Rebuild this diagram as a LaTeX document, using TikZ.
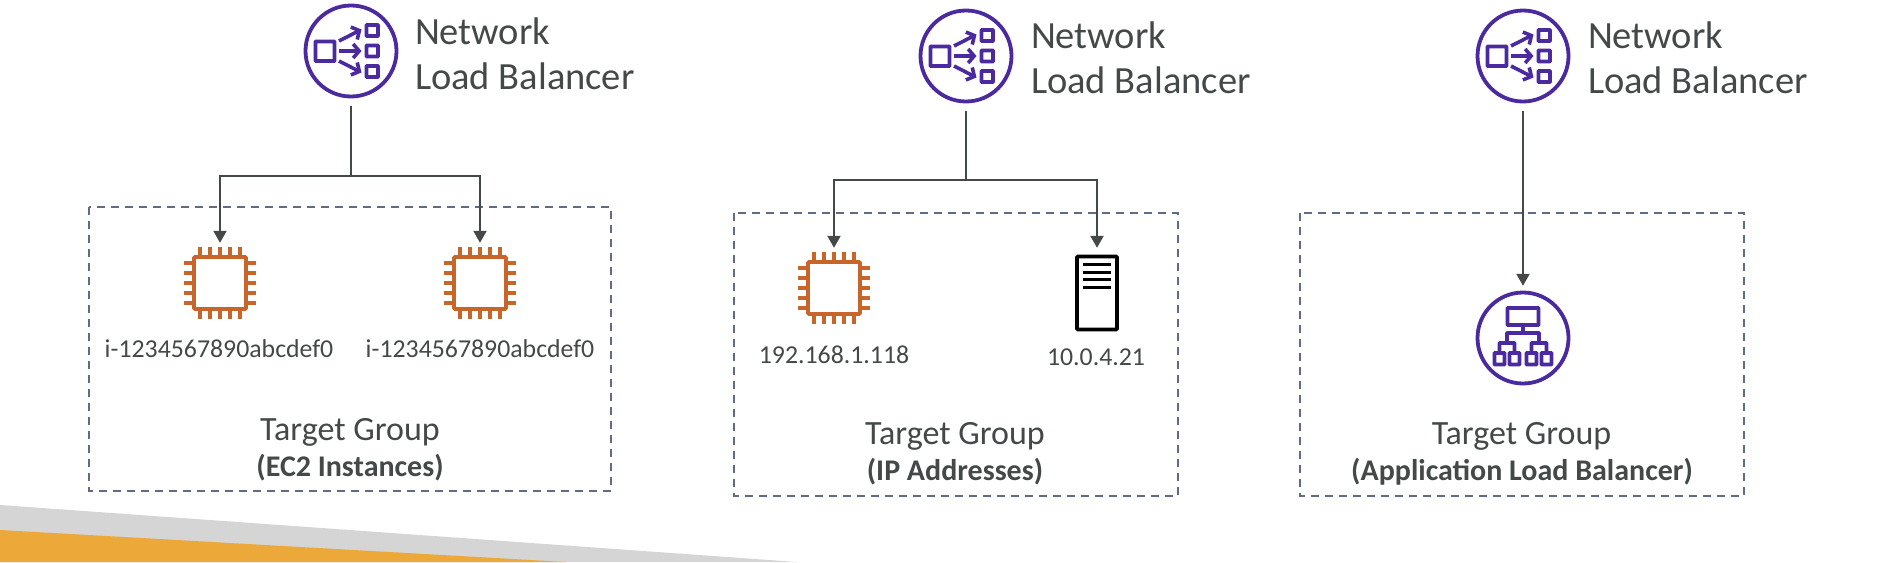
\documentclass[tikz,border=0pt]{standalone}
\usepackage{fontspec}
\setmainfont{Carlito}
\usetikzlibrary{arrows.meta}

\definecolor{awspurple}{RGB}{75,42,160}
\definecolor{awsorange}{RGB}{199,101,42}
\definecolor{textgrey}{RGB}{68,72,72}
\definecolor{dashgrey}{RGB}{96,108,134}

\tikzset{
  spot/.style={shape=circle,minimum size=#1,inner sep=0pt},
  box/.style={shape=rectangle,minimum width=#1,minimum height=#1,inner sep=0pt},
  group/.style={draw=dashgrey,line width=2pt,dash pattern=on 8pt off 6pt},
  link/.style={draw=textgrey,line width=2pt},
  linkarrow/.style={link,-{Triangle[width=13pt,length=12pt]}},
  title/.style={anchor=base west,align=left,text=textgrey,font=\fontsize{38.5}{45}\selectfont},
  addr/.style={anchor=base,text=textgrey,font=\fontsize{25.8}{30}\selectfont},
  tg/.style={anchor=base,text=textgrey,font=\fontsize{34}{40}\selectfont},
  tgsub/.style={anchor=base,text=textgrey,font=\bfseries\fontsize{30}{36}\selectfont},
  pics/nlbicon/.style={code={
    \tikzset{yscale=-1}
    \draw [awspurple,line width=3.8pt] (0,0) circle (45.5);
    \draw [awspurple,line width=3.8pt,rounded corners=0.6pt] (-35.5,-9.5) rectangle (-16.5,10);
    \foreach \y in {-20.5,0,20.5}
      \draw [awspurple,line width=3.8pt,rounded corners=0.6pt] (15.5,\y-5.5) rectangle (27,\y+5.5);
    \foreach \y in {-1,0,1}
      \draw [awspurple,line width=3.6pt,-{Straight Barb[length=6pt,width=14pt]}] (-12,10*\y) -- (10.5,21.5*\y);
  }},
  pics/albicon/.style={code={
    \tikzset{yscale=-1}
    \draw [awspurple,line width=3.8pt] (0,0) circle (45.5);
    \draw [awspurple,line width=3.8pt,rounded corners=0.6pt] (-15.5,-30) rectangle (15.5,-13);
    \draw [awspurple,line width=3.8pt] (0,-13) -- (0,-5);
    \draw [awspurple,line width=3.8pt,rounded corners=0.6pt] (-16,5) -- (-16,-5) -- (16,-5) -- (16,5);
    \foreach \x in {-16,16} {
      \draw [awspurple,line width=3.8pt,rounded corners=0.6pt] (\x-7.5,13) -- (\x-7.5,5) -- (\x+7.5,5) -- (\x+7.5,13);
      \foreach \s in {-7.5,7.5}
        \draw [awspurple,line width=3.8pt,rounded corners=0.6pt] (\x+\s-5,15) rectangle (\x+\s+5,26.5);
    }
  }},
  pics/chipicon/.style={code={
    \tikzset{yscale=-1}
    \draw [awsorange,line width=3.6pt,rounded corners=1pt] (-26,-26) rectangle (26,26);
    \foreach \d in {-20,-10,0,10,20} {
      \draw [awsorange,line width=3.2pt] (\d,-36) -- (\d,-27);
      \draw [awsorange,line width=3.2pt] (\d,36) -- (\d,27);
      \draw [awsorange,line width=3.2pt] (-36,\d) -- (-27,\d);
      \draw [awsorange,line width=3.2pt] (36,\d) -- (27,\d);
    }
  }},
  pics/servericon/.style={code={
    \tikzset{yscale=-1}
    \draw [black,line width=3.6pt,rounded corners=1pt] (-20,-36.5) rectangle (20,36.5);
    \foreach \y in {-28.5,-21,-13.5,-6}
      \draw [black,line width=3pt] (-14,\y) -- (14,\y);
  }},
}

\begin{document}
\begin{tikzpicture}[x=1pt,y=1pt,yscale=-1,xscale=1]
    \useasboundingbox (0,0) rectangle (1884,562);

    %Banner
    \fill [fill={rgb,255:red,213;green,213;blue,213}] (0,505) -- (797,562) -- (0,562) -- cycle;
    \fill [fill={rgb,255:red,236;green,169;blue,58}] (0,530) -- (566,562) -- (0,562) -- cycle;

    %Target groups
    \draw [group] (89,207) rectangle (611,491);
    \draw [group] (734,213) rectangle (1178,496);
    \draw [group] (1300,213) rectangle (1744,496);

    %Load balancers
    \node [spot=110] (nlbA) at (351,51) {};
    \node [spot=110] (nlbB) at (966,56) {};
    \node [spot=110] (nlbC) at (1523,56) {};
    \pic at (nlbA) {nlbicon};
    \pic at (nlbB) {nlbicon};
    \pic at (nlbC) {nlbicon};

    %Targets
    \node [box=80] (chipA) at (220,283) {};
    \node [box=80] (chipB) at (480,283) {};
    \node [box=80] (chipC) at (834,288) {};
    \node [box=90] (srvC) at (1097,293) {};
    \node [spot=104] (albC) at (1523,338) {};
    \pic at (chipA) {chipicon};
    \pic at (chipB) {chipicon};
    \pic at (chipC) {chipicon};
    \pic at (srvC) {servericon};
    \pic at (albC) {albicon};

    %Connectors
    \coordinate (forkA) at (351,176);
    \coordinate (forkB) at (966,180);
    \draw [link] (nlbA.south) -- (forkA);
    \draw [linkarrow] (forkA) -| (chipA.north);
    \draw [linkarrow] (forkA) -| (chipB.north);
    \draw [link] (nlbB.south) -- (forkB);
    \draw [linkarrow] (forkB) -| (chipC.north);
    \draw [linkarrow] (forkB) -| (srvC.north);
    \draw [linkarrow] (nlbC.south) -- (albC.north);

    % Text Node
    \node [title] (titleA) at (411.5,89) {Network\\Load Balancer};
    \node [title] (titleB) at (1027.5,93) {Network\\Load Balancer};
    \node [title] (titleC) at (1584.5,93) {Network\\Load Balancer};
    % Text Node
    \node [addr] (addrA) at (219,357) {i-1234567890abcdef0};
    \node [addr] (addrB) at (480,357) {i-1234567890abcdef0};
    \node [addr] (addrC) at (834,363) {192.168.1.118};
    \node [addr] (addrD) at (1096,365) {10.0.4.21};
    % Text Node
    \node [tg] (tgA) at (350,440) {Target Group};
    \node [tgsub] (subA) at (350,476) {(EC2 Instances)};
    \node [tg] (tgB) at (955,444) {Target Group};
    \node [tgsub] (subB) at (955,480) {(IP Addresses)};
    \node [tg] (tgC) at (1521.5,444) {Target Group};
    \node [tgsub] (subC) at (1522,480) {(Application Load Balancer)};
\end{tikzpicture}
\end{document}
